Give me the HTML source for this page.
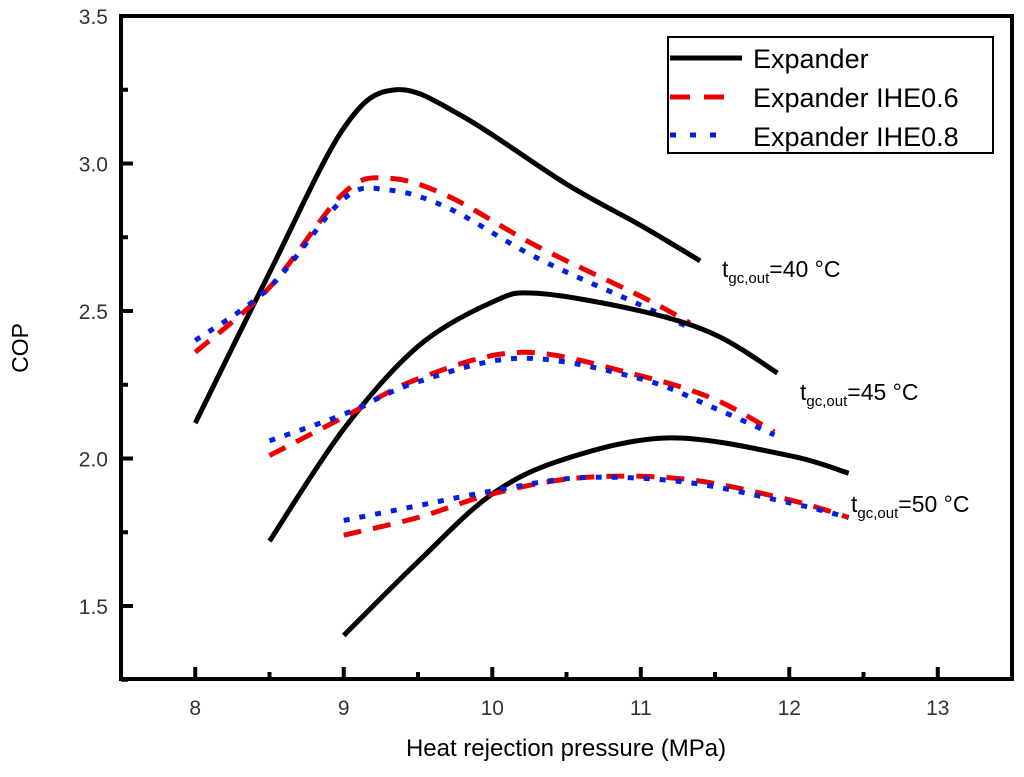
<!DOCTYPE html>
<html><head><meta charset="utf-8"><style>
body{margin:0;background:#fff;position:relative}
text{font-family:"Liberation Sans",Arial,sans-serif}
</style></head><body>
<svg id="chart" width="1024" height="772" xmlns="http://www.w3.org/2000/svg">
<g id="marks"></g>
<g id="axes"></g>
</svg>
<script>
const xTicks=[8,9,10,11,12,13];
const yTicks=[1.5,2.0,2.5,3.0,3.5];
const exp40x=[8,8.5,9,9.35,9.8,10.5,11,11.4];
const exp40y=[2.12,2.63,3.12,3.25,3.16,2.93,2.79,2.67];
const ihe640x=[8,8.5,9,9.3,9.7,10.3,11,11.33];
const ihe640y=[2.36,2.58,2.90,2.95,2.89,2.72,2.55,2.46];
const ihe840x=[8,8.5,9,9.3,9.7,10.3,11,11.3];
const ihe840y=[2.40,2.58,2.88,2.91,2.85,2.68,2.52,2.45];
const exp45x=[8.5,9,9.5,10,10.3,11,11.5,11.92];
const exp45y=[1.72,2.10,2.38,2.53,2.56,2.50,2.42,2.29];
const ihe645x=[8.5,9,9.5,10.2,11,11.5,11.9];
const ihe645y=[2.01,2.14,2.27,2.36,2.28,2.20,2.09];
const ihe845x=[8.5,9,9.5,10.2,11,11.5,11.9];
const ihe845y=[2.06,2.15,2.26,2.34,2.27,2.17,2.08];
const exp50x=[9,9.5,10,10.5,11.2,12,12.4];
const exp50y=[1.40,1.65,1.88,2.00,2.07,2.01,1.95];
const ihe650x=[9,9.5,10,10.6,11.3,12,12.4];
const ihe650y=[1.74,1.80,1.88,1.935,1.93,1.86,1.80];
const ihe850x=[9,9.5,10,10.6,11.3,12,12.4];
const ihe850y=[1.79,1.84,1.89,1.935,1.92,1.85,1.80];

const L=121,R=1012,T=16,B=679;
const X=v=>L+(v-7.5)*148.5;
const Y=v=>T+(3.5-v)*295;
const NS='http://www.w3.org/2000/svg';
const marks=document.getElementById('marks'),axes=document.getElementById('axes');
function mk(tag,attrs,parent){const e=document.createElementNS(NS,tag);for(const k in attrs)e.setAttribute(k,attrs[k]);parent.appendChild(e);return e;}
function path(xs,ys){
  const p=xs.map((x,i)=>[X(x),Y(ys[i])]);
  let d='M'+p[0][0]+','+p[0][1];
  for(let i=0;i<p.length-1;i++){
    const p0=p[i-1]||p[i],p1=p[i],p2=p[i+1],p3=p[i+2]||p2;
    d+=' C'+(p1[0]+(p2[0]-p0[0])/6)+','+(p1[1]+(p2[1]-p0[1])/6)+' '+(p2[0]-(p3[0]-p1[0])/6)+','+(p2[1]-(p3[1]-p1[1])/6)+' '+p2[0]+','+p2[1];
  }
  return d;
}
const series=[
 [exp40x,exp40y,'solid','expander-40'],[ihe640x,ihe640y,'red','ihe06-40'],[ihe840x,ihe840y,'blue','ihe08-40'],
 [exp45x,exp45y,'solid','expander-45'],[ihe645x,ihe645y,'red','ihe06-45'],[ihe845x,ihe845y,'blue','ihe08-45'],
 [exp50x,exp50y,'solid','expander-50'],[ihe650x,ihe650y,'red','ihe06-50'],[ihe850x,ihe850y,'blue','ihe08-50']];
const styles={solid:{stroke:'#000','stroke-width':5},red:{stroke:'#e00','stroke-width':5,'stroke-dasharray':'18,12'},blue:{stroke:'#0020e0','stroke-width':5,'stroke-dasharray':'6,10'}};
series.forEach(s=>{
  const e=mk('path',Object.assign({d:path(s[0],s[1]),fill:'none','stroke-linecap':'butt'},styles[s[2]]),marks);
  
  
});
const fr=mk('rect',{x:L,y:T,width:R-L,height:B-T,fill:'none',stroke:'#000','stroke-width':4},axes);


xTicks.forEach(v=>{
  mk('line',{x1:X(v),x2:X(v),y1:B,y2:B-12,stroke:'#000','stroke-width':4},axes);
  mk('line',{x1:X(v-0.5),x2:X(v-0.5),y1:B,y2:B-7,stroke:'#000','stroke-width':4},axes);
  const t=mk('text',{x:X(v),y:B+36,'text-anchor':'middle','font-size':21,fill:'#333'},axes);
  t.textContent=v;
  
  
});
yTicks.forEach(v=>{
  mk('line',{x1:L,x2:L+12,y1:Y(v),y2:Y(v),stroke:'#000','stroke-width':4},axes);
  mk('line',{x1:L,x2:L+7,y1:Y(v-0.25),y2:Y(v-0.25),stroke:'#000','stroke-width':4},axes);
  const t=mk('text',{x:L-13,y:Y(v)+8,'text-anchor':'end','font-size':21,fill:'#333'},axes);
  t.textContent=v.toFixed(1);
  
  
});
</script>
<svg width="1024" height="772" style="position:absolute;left:0;top:0" xmlns="http://www.w3.org/2000/svg">
<text x="566" y="756" text-anchor="middle" font-size="24">Heat rejection pressure (MPa)</text>
<text x="0" y="0" transform="translate(28,348) rotate(-90)" text-anchor="middle" font-size="23">COP</text>
<g>
<rect x="668" y="37" width="325" height="116" fill="#fff" stroke="#000" stroke-width="2"/>
<line x1="670" y1="58" x2="742" y2="58" stroke="#000" stroke-width="5"/>
<line x1="670" y1="97" x2="732" y2="97" stroke="#e00" stroke-width="5" stroke-dasharray="20,14"/>
<line x1="670" y1="135" x2="730" y2="135" stroke="#0020e0" stroke-width="5" stroke-dasharray="6,14"/>
<text x="753" y="68" font-size="27">Expander</text>
<text x="753" y="107" font-size="27">Expander IHE0.6</text>
<text x="753" y="146" font-size="27">Expander IHE0.8</text>
</g>
<text x="722" y="277" font-size="23">t<tspan font-size="15" dy="6">gc,out</tspan><tspan dy="-6">=40 °C</tspan></text>
<text x="800" y="400" font-size="23">t<tspan font-size="15" dy="6">gc,out</tspan><tspan dy="-6">=45 °C</tspan></text>
<text x="851" y="512" font-size="23">t<tspan font-size="15" dy="6">gc,out</tspan><tspan dy="-6">=50 °C</tspan></text>
</svg>
</body></html>
